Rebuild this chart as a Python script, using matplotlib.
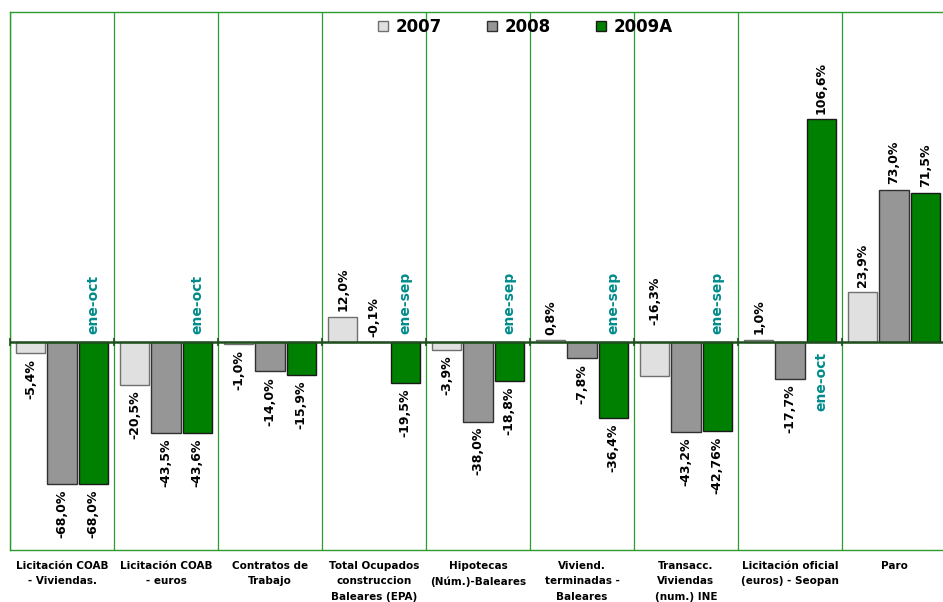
import matplotlib
matplotlib.use("Agg")
import matplotlib.pyplot as plt
import numpy as np

categories = [
    "Licitación COAB\n- Viviendas.",
    "Licitación COAB\n- euros",
    "Contratos de\nTrabajo",
    "Total Ocupados\nconstruccion\nBaleares (EPA)",
    "Hipotecas\n(Núm.)-Baleares",
    "Viviend.\nterminadas -\nBaleares",
    "Transacc.\nViviendas\n(num.) INE",
    "Licitación oficial\n(euros) - Seopan",
    "Paro",
]
series_names = ["2007", "2008", "2009A"]
v2007 = [-5.4, -20.5, -1.0, 12.0, -3.9, 0.8, -16.3, 1.0, 23.9]
v2008 = [-68.0, -43.5, -14.0, -0.1, -38.0, -7.8, -43.2, -17.7, 73.0]
v2009 = [-68.0, -43.6, -15.9, -19.5, -18.8, -36.4, -42.76, 106.6, 71.5]
notes = ["ene-oct", "ene-oct", "", "ene-sep", "ene-sep", "ene-sep", "ene-sep", "ene-oct", ""]

# labels that sit above the zero line regardless of sign: (series index, category index)
above_zero = {(1, 3), (0, 6)}

colors = ["#E0E0E0", "#969696", "#008000"]
edges = ["#707070", "#303030", "#1a1a1a"]

fig = plt.figure(figsize=(9.43, 6.02), dpi=100)
ax = fig.add_axes([10/943, 1 - 550/602, 936/943, (550 - 12)/602])

x = np.arange(len(categories))
offsets = [-0.30, 0.0, 0.30]
width = 0.28
data = [v2007, v2008, v2009]

def fmt(v):
    if abs(round(v, 1) - v) > 1e-9:
        s = f"{v:.2f}"
    else:
        s = f"{v:.1f}"
    return s.replace(".", ",") + "%"

handles = []
for si, vals in enumerate(data):
    b = ax.bar(x + offsets[si], vals, width, color=colors[si], edgecolor=edges[si],
               linewidth=1.0, label=series_names[si], zorder=3)
    handles.append(b)
    for ci, v in enumerate(vals):
        xp = x[ci] + offsets[si]
        if v >= 0 or (si, ci) in above_zero:
            base = max(v, 0)
            off = 4 if (si, ci) != (0, 6) else 12
            ax.annotate(fmt(v), (xp, base), xytext=(0, off), textcoords="offset points",
                        rotation=90, ha="center", va="bottom", fontsize=9,
                        fontweight="bold", color="black", zorder=4)
        else:
            ax.annotate(fmt(v), (xp, v), xytext=(0, -4), textcoords="offset points",
                        rotation=90, ha="center", va="top", fontsize=9,
                        fontweight="bold", color="black", zorder=4)

for ci, n in enumerate(notes):
    if not n:
        continue
    xp = x[ci] + offsets[2]
    if v2009[ci] < 0:
        ax.annotate(n, (xp, 0), xytext=(0, 6), textcoords="offset points", rotation=90,
                    ha="center", va="bottom", fontsize=10, fontweight="bold",
                    color="#008B8B", zorder=4)
    else:
        ax.annotate(n, (xp, 0), xytext=(0, -7), textcoords="offset points", rotation=90,
                    ha="center", va="top", fontsize=10, fontweight="bold",
                    color="#008B8B", zorder=4)

ax.set_xlim(-0.5, len(categories) - 0.5)
ax.set_ylim(-99.5, 158)

bounds = np.arange(len(categories) + 1) - 0.5
for bx in bounds:
    ax.axvline(bx, color="#2E9B2E", linewidth=0.9, zorder=1)
ax.axhline(0, color="#1F4F1F", linewidth=1.8, zorder=5)
ax.plot(bounds, np.zeros_like(bounds), linestyle="none", marker="|", markersize=6,
        color="#1F4F1F", markeredgewidth=1.2, zorder=5, clip_on=False)

for s in ax.spines.values():
    s.set_color("#2E9B2E")
    s.set_linewidth(1.0)

ax.set_yticks([])
ax.set_xticks(x)
ax.set_xticklabels(categories, fontsize=7.5, fontweight="bold", linespacing=1.66, va="top")
ax.tick_params(axis="x", length=0, pad=8)

leg = fig.legend(handles=handles, loc="center", bbox_to_anchor=(0.557, 1 - 27/602), ncol=3,
                 frameon=False, handlelength=0.6, handleheight=0.6, columnspacing=2.7,
                 handletextpad=0.45, prop={"weight": "bold", "size": 12})

fig.savefig("out.png", dpi=100)
